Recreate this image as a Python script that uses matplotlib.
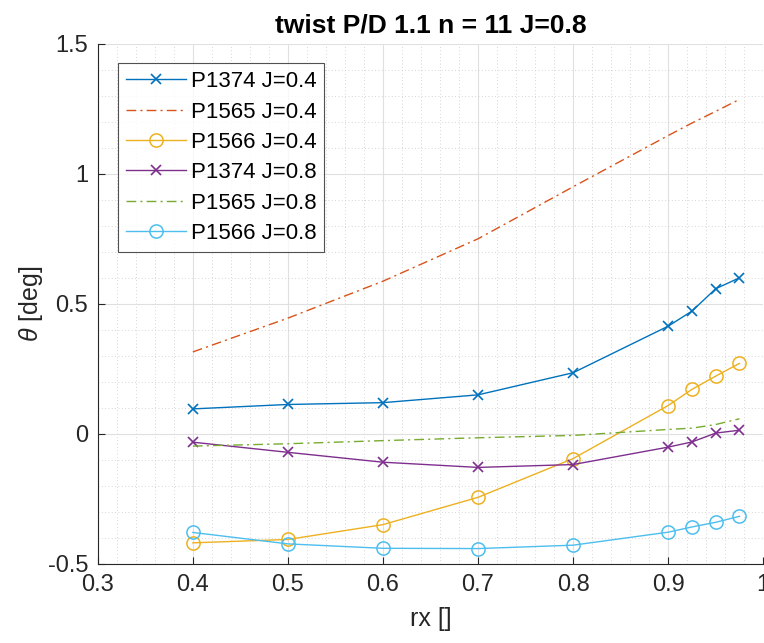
import numpy as np
import matplotlib
matplotlib.use("Agg")
import matplotlib.pyplot as plt
from matplotlib.ticker import MultipleLocator

plt.rcParams['font.family'] = ['Liberation Sans', 'DejaVu Sans']
plt.rcParams['mathtext.fontset'] = 'custom'
plt.rcParams['mathtext.it'] = 'Liberation Sans:italic'

# Radial stations
rx = [0.4, 0.5, 0.6, 0.7, 0.8, 0.9, 0.925, 0.95, 0.975]

# Twist per propeller and advance ratio
p1374_j04 = [0.096, 0.113, 0.120, 0.150, 0.235, 0.414, 0.472, 0.558, 0.600]
p1565_j04 = [0.315, 0.445, 0.587, 0.750, 0.950, 1.147, 1.195, 1.240, 1.286]
p1566_j04 = [-0.419, -0.406, -0.349, -0.244, -0.095, 0.109, 0.171, 0.222, 0.271]
p1374_j08 = [-0.032, -0.071, -0.109, -0.129, -0.118, -0.051, -0.031, 0.003, 0.014]
p1565_j08 = [-0.047, -0.038, -0.026, -0.015, -0.006, 0.017, 0.022, 0.036, 0.058]
p1566_j08 = [-0.379, -0.423, -0.440, -0.441, -0.428, -0.378, -0.358, -0.340, -0.317]

labels = ["P1374 J=0.4", "P1565 J=0.4", "P1566 J=0.4",
          "P1374 J=0.8", "P1565 J=0.8", "P1566 J=0.8"]

# MATLAB default color order
colors = ["#0072BD", "#D95319", "#EDB120", "#7E2F8E", "#77AC30", "#4DBEEE"]

fig = plt.figure(figsize=(7.64, 6.43), dpi=100)
ax = fig.add_axes([0.128, 0.123, 0.871, 0.809])

series = [p1374_j04, p1565_j04, p1566_j04, p1374_j08, p1565_j08, p1566_j08]
for i, (y, lab) in enumerate(zip(series, labels)):
    if i % 3 == 0:
        ax.plot(rx, y, color=colors[i], lw=1.0, marker='x', ms=7,
                mew=1.2, label=lab)
    elif i % 3 == 1:
        ax.plot(rx, y, color=colors[i], lw=1.0, linestyle=(0, (7, 3, 1.5, 3)),
                label=lab)
    else:
        ax.plot(rx, y, color=colors[i], lw=1.0, marker='o', ms=9.5,
                mfc='none', mew=1.1, label=lab)

ax.set_xlim(0.3, 1.0)
ax.set_ylim(-0.5, 1.5)
ax.xaxis.set_minor_locator(MultipleLocator(0.02))
ax.yaxis.set_minor_locator(MultipleLocator(0.1))
ax.set_xticks(np.arange(0.3, 1.01, 0.1))
ax.set_xticklabels(["0.3", "0.4", "0.5", "0.6", "0.7", "0.8", "0.9", "1"])
ax.set_yticks([-0.5, 0, 0.5, 1, 1.5])
ax.set_yticklabels(["-0.5", "0", "0.5", "1", "1.5"])

ax.grid(True, which='major', color='#e0e0e0', lw=0.8)
ax.grid(True, which='minor', color='#c8c8c8', lw=0.6, linestyle=(0, (1, 3)))
ax.set_axisbelow(True)

ax.tick_params(which='major', direction='in', length=5, width=0.8,
               labelsize=17, colors='#262626', pad=7)
ax.tick_params(which='minor', length=0)

for side in ['top', 'right']:
    ax.spines[side].set_visible(False)
for side in ['left', 'bottom']:
    ax.spines[side].set_color('#262626')
    ax.spines[side].set_linewidth(0.8)

ax.set_xlabel("rx []", fontsize=18, color='#262626', labelpad=8)
ax.set_ylabel(r"$\it{\theta}$ [deg]", fontsize=18, color='#262626', labelpad=2)
ax.set_title("twist P/D 1.1 n = 11 J=0.8", fontsize=19, fontweight='bold',
             color='black', pad=8)

leg = ax.legend(loc='upper left', bbox_to_anchor=(0.03, 0.962), fontsize=16,
                frameon=True, fancybox=False, edgecolor='#262626',
                handlelength=2.7, handletextpad=0.25, borderpad=0.35,
                labelspacing=0.42, borderaxespad=0)
leg.get_frame().set_linewidth(0.8)

fig.savefig("out.png", dpi=100)
